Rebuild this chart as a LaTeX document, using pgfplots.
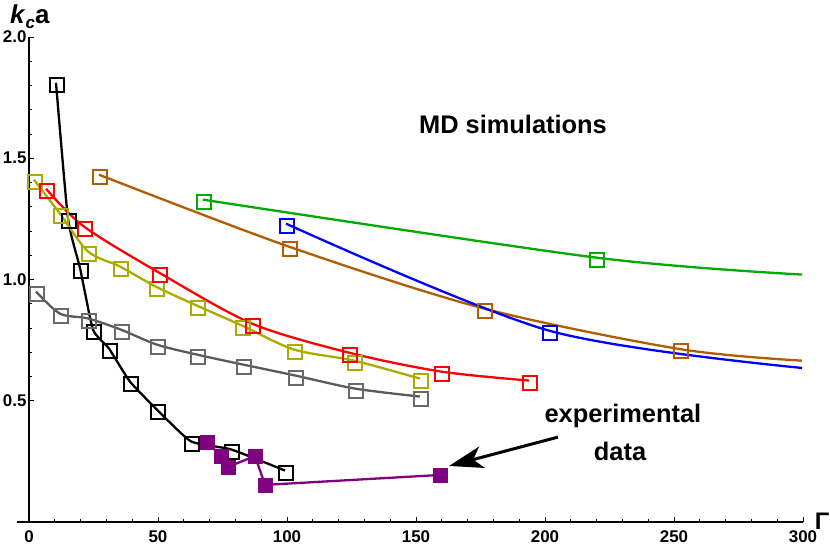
\documentclass[border=0pt]{standalone}
\usepackage{fontspec}
\setmainfont{Liberation Sans}
\usepackage{pgfplots}
\pgfplotsset{compat=1.18}
\usetikzlibrary{arrows.meta}
\definecolor{cBrown}{RGB}{178,92,0}
\definecolor{cGreen}{RGB}{0,170,0}
\definecolor{cOlive}{RGB}{170,170,0}
\definecolor{cGray}{RGB}{90,90,90}
\definecolor{cGrayM}{RGB}{105,105,105}
\definecolor{cPurple}{RGB}{128,0,128}
\begin{document}
\begin{tikzpicture}
\useasboundingbox (-17bp,-28bp) rectangle (813bp,522bp);
\begin{axis}[
 at={(0,0)}, anchor=south west,
 scale only axis, width=786bp, height=485bp,
 xmin=-4.65, xmax=300, ymin=0, ymax=2.0,
 axis lines=middle, axis line style={-, line width=1.3bp, black},
 hide obscured x ticks=false, hide obscured y ticks=false,
 xtick={0,50,...,300}, ytick={0.5,1.0,1.5,2.0},
 minor x tick num=4, minor y tick num=4,
 tick align=inside,
 major tick length=5bp, minor tick length=3bp,
 tick style={black, line width=0.8bp},
 ticklabel style={font=\fontsize{17}{18}\selectfont\bfseries},
 xticklabel style={yshift=-5bp},
 yticklabel style={xshift=1bp},
 /pgf/number format/assume math mode=true,
 yticklabel style={/pgf/number format/.cd, fixed, fixed zerofill, precision=1},
 clip=false,
 every axis plot/.append style={line width=2.3bp},
]
% ---- lines ----
\addplot[black, smooth, tension=0.3, xshift=-1bp, yshift=2.5bp] coordinates {
(10.85,1.801) (15.5,1.241) (20.2,1.035) (25.2,0.783) (31.4,0.705) (39.5,0.569) (50.0,0.453) (63.2,0.322) (78.7,0.289) (99.6,0.202)};
\addplot[cGray, smooth, tension=0.5, xshift=-1bp, yshift=2.5bp] coordinates {
(3.1,0.940) (12.4,0.849) (23.3,0.829) (36.0,0.783) (50.0,0.721) (65.5,0.680) (83.3,0.639) (103.5,0.594) (126.7,0.540) (151.9,0.507)};
\addplot[cOlive, smooth, tension=0.5, xshift=-1bp, yshift=2.5bp] coordinates {
(2.3,1.401) (12.4,1.261) (23.3,1.105) (35.7,1.043) (49.6,0.960) (65.5,0.882) (82.9,0.800) (103.1,0.701) (126.4,0.655) (151.9,0.581)};
\addplot[red, smooth, tension=0.5, xshift=-1bp, yshift=2.5bp] coordinates {
(7.0,1.364) (21.7,1.208) (50.8,1.018) (86.8,0.808) (124.4,0.688) (160.1,0.610) (194.2,0.573)};
\addplot[cBrown, smooth, tension=0.5, xshift=-1bp, yshift=2.5bp] coordinates {
(27.5,1.422) (101.2,1.125) (176.7,0.870) (252.5,0.703) (300,0.655)};
\addplot[cGreen, smooth, tension=0.5, xshift=-1bp, yshift=2.5bp] coordinates {
(67.8,1.319) (220.2,1.080) (300,1.010)};
\addplot[blue, smooth, tension=0.5, xshift=-1bp, yshift=2.5bp] coordinates {
(100.0,1.220) (201.9,0.779) (300,0.625)};
% ---- markers ----
\addplot[only marks, mark=square, mark size=7bp, mark options={black, line width=1.7bp}] coordinates {
(10.85,1.801) (15.5,1.241) (20.2,1.035) (25.2,0.783) (31.4,0.705) (39.5,0.569) (50.0,0.453) (63.2,0.322) (78.7,0.289) (99.6,0.202)};
\addplot[cPurple, mark=square*, mark size=7bp, mark options={cPurple, line width=0.5bp}] coordinates {
(69.0,0.330) (74.4,0.272) (77.1,0.227) (87.6,0.272) (91.5,0.153) (159.3,0.194)};
\addplot[only marks, mark=square, mark size=7bp, mark options={cGrayM, line width=1.7bp}] coordinates {
(3.1,0.940) (12.4,0.849) (23.3,0.829) (36.0,0.783) (50.0,0.721) (65.5,0.680) (83.3,0.639) (103.5,0.594) (126.7,0.540) (151.9,0.507)};
\addplot[only marks, mark=square, mark size=7bp, mark options={cOlive, line width=1.7bp}] coordinates {
(2.3,1.401) (12.4,1.261) (23.3,1.105) (35.7,1.043) (49.6,0.960) (65.5,0.882) (82.9,0.800) (103.1,0.701) (126.4,0.655) (151.9,0.581)};
\addplot[only marks, mark=square, mark size=7bp, mark options={red, line width=1.7bp}] coordinates {
(7.0,1.364) (21.7,1.208) (50.8,1.018) (86.8,0.808) (124.4,0.688) (160.1,0.610) (194.2,0.573)};
\addplot[only marks, mark=square, mark size=7bp, mark options={cGreen, line width=1.7bp}] coordinates {
(67.8,1.319) (220.2,1.080)};
\addplot[only marks, mark=square, mark size=7bp, mark options={blue, line width=1.7bp}] coordinates {
(100.0,1.220) (201.9,0.779)};
\addplot[only marks, mark=square, mark size=7bp, mark options={cBrown, line width=1.8bp}] coordinates {
(27.5,1.422) (101.2,1.125) (176.7,0.870) (252.7,0.705)};
% annotations
\node[anchor=base, font=\fontsize{25.5}{30}\selectfont\bfseries] at (axis cs:187.6,1.604) {MD simulations};
\node[anchor=base, font=\fontsize{25.5}{30}\selectfont\bfseries] at (axis cs:230.2,0.412) {experimental};
\node[anchor=base, font=\fontsize{25.5}{30}\selectfont\bfseries] at (axis cs:229.1,0.2556) {data};
\draw[line width=3bp, -{Stealth[length=34bp,width=22bp,inset=9bp]}] (axis cs:205.0,0.350) -- (axis cs:162.8,0.231);
\node[anchor=base west, inner sep=0pt, font=\fontsize{26}{30}\selectfont\bfseries] at (axis cs:-7.4,2.057) {\textit{k}\raisebox{-0.22em}{\fontsize{17}{20}\selectfont\bfseries\itshape c}a};
\node[anchor=base west, inner sep=0pt, font=\fontsize{24}{28}\selectfont\bfseries] at (axis cs:304.5,-0.03) {Γ};
\end{axis}
\end{tikzpicture}
\end{document}
